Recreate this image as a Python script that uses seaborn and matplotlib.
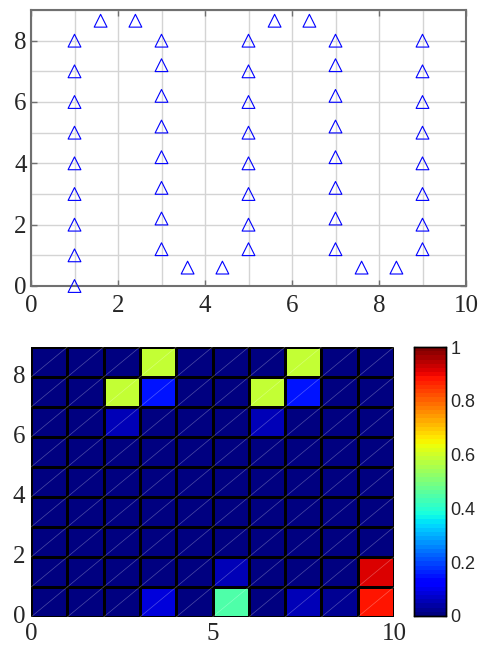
import numpy as np
import pandas as pd
import matplotlib
matplotlib.use("Agg")
import matplotlib.pyplot as plt
import seaborn as sns

# ---------------- data ----------------
col1_y = [0, 1, 2, 3, 4, 5, 6, 7, 8]
col3_y = [1.2, 2.2, 3.2, 4.2, 5.2, 6.2, 7.2, 8]
col5_y = [1.2, 2, 3, 4, 5, 6, 7, 8]
col7_y = [1.2, 2.2, 3.2, 4.2, 5.2, 6.2, 7.2, 8]
col9_y = [1.2, 2, 3, 4, 5, 6, 7, 8]
col_x = [1, 3, 5, 7, 9]
top_x = [1.6, 2.4, 5.6, 6.4]
top_y = [8.65, 8.65, 8.65, 8.65]
bot_x = [3.6, 4.4, 7.6, 8.4]
bot_y = [0.6, 0.6, 0.6, 0.6]

# heatmap values, row 0 = bottom (y 0..1)
row0 = [0.01, 0.01, 0.01, 0.08, 0.01, 0.44, 0.01, 0.06, 0.02, 0.89]
row1 = [0.01, 0.01, 0.01, 0.01, 0.01, 0.05, 0.01, 0.01, 0.01, 0.91]
row2 = [0.01, 0.01, 0.01, 0.01, 0.01, 0.01, 0.01, 0.01, 0.01, 0.01]
row3 = [0.01, 0.01, 0.01, 0.01, 0.01, 0.01, 0.01, 0.01, 0.01, 0.01]
row4 = [0.01, 0.01, 0.01, 0.01, 0.01, 0.01, 0.01, 0.01, 0.01, 0.01]
row5 = [0.01, 0.01, 0.01, 0.01, 0.01, 0.01, 0.01, 0.01, 0.01, 0.01]
row6 = [0.01, 0.01, 0.05, 0.01, 0.01, 0.01, 0.05, 0.01, 0.01, 0.01]
row7 = [0.01, 0.01, 0.58, 0.15, 0.01, 0.01, 0.58, 0.15, 0.01, 0.01]
row8 = [0.01, 0.01, 0.01, 0.58, 0.01, 0.01, 0.01, 0.58, 0.01, 0.01]

top_xticks = [0, 2, 4, 6, 8, 10]
top_yticks = [0, 2, 4, 6, 8]
bot_xticks = [0, 5, 10]
bot_yticks = [0, 2, 4, 6, 8]
cbar_ticks = [0, 0.2, 0.4, 0.6, 0.8, 1]
cbar_labels = ["0", "0.2", "0.4", "0.6", "0.8", "1"]

# ---------------- build ----------------
sns.set_theme(style="white")
plt.rcParams["font.family"] = ["Liberation Serif", "DejaVu Serif"]

cols_y = [col1_y, col3_y, col5_y, col7_y, col9_y]
xs, ys = [], []
for cx, cy in zip(col_x, cols_y):
    xs += [cx] * len(cy)
    ys += cy
xs += top_x + bot_x
ys += top_y + bot_y
df = pd.DataFrame({"x": xs, "y": ys})

W, H = 480, 646
fig = plt.figure(figsize=(W / 100, H / 100), dpi=100)

# ---- top scatter ----
ax1 = fig.add_axes([31 / W, 1 - 286 / H, (466 - 31) / W, (286 - 10) / H])
sns.scatterplot(data=df, x="x", y="y", marker="^", s=85, ax=ax1, zorder=3,
                clip_on=False)
coll = ax1.collections[0]
coll.set_facecolor("none")
coll.set_edgecolor("#0000ff")
coll.set_linewidth(0.8)
ax1.set_xlim(0, 10)
ax1.set_ylim(0, 9)
ax1.set_xticks(top_xticks)
ax1.set_yticks(top_yticks)
ax1.set_xticks(range(0, 11), minor=True)
ax1.set_yticks(range(0, 10), minor=True)
ax1.set_xticklabels([str(t) for t in top_xticks])
ax1.set_yticklabels([str(t) for t in top_yticks])
ax1.set_xlabel("")
ax1.set_ylabel("")
ax1.set_axisbelow(True)
ax1.grid(which="both", color="#d4d4d4", linewidth=1.0)
ax1.tick_params(which="major", direction="in", length=4, width=1,
                top=True, right=True, bottom=True, left=True,
                color="#707070", labelsize=18)
ax1.tick_params(axis="x", which="major", pad=6.5)
ax1.tick_params(axis="y", which="major", pad=3)
ax1.tick_params(which="minor", length=0)
for sp in ax1.spines.values():
    sp.set_visible(True)
    sp.set_color("#707070")
    sp.set_linewidth(1.5)

# ---- bottom heatmap ----
vals = np.array([row0, row1, row2, row3, row4, row5, row6, row7, row8])
nrows, ncols = vals.shape
ax2 = fig.add_axes([31 / W, 1 - 617 / H, (394 - 31) / W, (617 - 347) / H])
cax = fig.add_axes([414 / W, 1 - 616 / H, 32 / W, (616 - 347) / H])
cmap = plt.get_cmap("jet", 64)
sns.heatmap(vals, cmap=cmap, vmin=0, vmax=1, linewidths=0.8,
            linecolor="black", ax=ax2, cbar_ax=cax,
            cbar_kws={"ticks": cbar_ticks})
for i in range(ncols):
    for j in range(nrows):
        ax2.plot([i, i + 1], [j, j + 1], color="white", alpha=0.3,
                 linewidth=0.5, zorder=3)
ax2.set_xlim(0, ncols)
ax2.set_ylim(0, nrows)
ax2.set_xticks(bot_xticks)
ax2.set_yticks(bot_yticks)
ax2.set_xticklabels([str(t) for t in bot_xticks], rotation=0)
ax2.set_yticklabels([str(t) for t in bot_yticks], rotation=0)
ax2.tick_params(direction="in", length=0, labelsize=18,
                bottom=True, left=True)
ax2.tick_params(axis="x", pad=4)
ax2.tick_params(axis="y", pad=4)
ax2.set_xlabel("")
ax2.set_ylabel("")

cax.set_yticks(cbar_ticks)
cax.set_yticklabels(cbar_labels, family=["Liberation Sans", "DejaVu Sans"],
                    fontsize=13)
cax.tick_params(direction="in", length=3, width=0.8, right=True, left=True,
                labelleft=False, labelright=True, pad=3, color="black")
for sp in cax.spines.values():
    sp.set_visible(True)
    sp.set_color("black")
    sp.set_linewidth(1)
cb = ax2.collections[0].colorbar
cb.outline.set_edgecolor("black")
cb.outline.set_linewidth(1)

fig.savefig("out.png", dpi=100)
